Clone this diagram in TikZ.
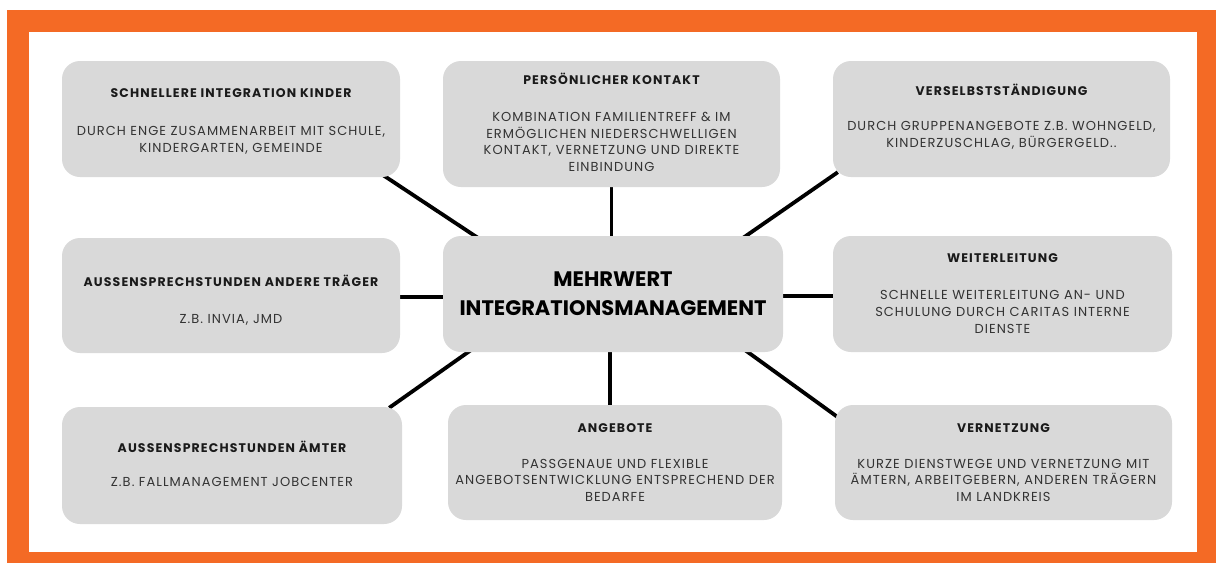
\documentclass[tikz,border=0pt]{standalone}
\usepackage{fontspec}
\setmainfont{Poppins}
\newfontfamily\bodyfont[LetterSpace=8]{Poppins}
\newfontfamily\titlefont[LetterSpace=9]{Poppins}
\newfontfamily\centerfont{Poppins}
\definecolor{frameorange}{HTML}{F46A25}
\definecolor{boxgray}{HTML}{D9D9D9}
\definecolor{bodycol}{HTML}{333333}
\definecolor{titlecol}{HTML}{1A1A1A}
\pgfdeclarelayer{back}
\pgfdeclarelayer{bg}
\pgfsetlayers{back,bg,main}
\newcommand{\ttl}[1]{{\titlefont\bfseries\color{titlecol}\fontsize{12.5}{16.8}\selectfont #1}}
\begin{document}
\begin{tikzpicture}[x=1pt,y=-1pt,
  box/.style={fill=boxgray, rounded corners=18pt, inner sep=0pt},
  txt/.style={inner sep=0pt, align=center, text=bodycol, font=\bodyfont\fontsize{13}{16.8}\selectfont},
  centerbox/.style={box, align=center, text=black, font=\centerfont\bfseries\fontsize{21}{29}\selectfont},
  conn/.style={line width=3.8pt, draw=black}]
\useasboundingbox (0,0) rectangle (1216,563);
\begin{pgfonlayer}{back}
\fill[white] (0,0) rectangle (1216,563);
\fill[frameorange] (7,10) rectangle (1216,563);
\fill[white] (29,32) rectangle (1197,552);
\end{pgfonlayer}

\node[box, minimum width=338pt, minimum height=116pt] (b1) at (231,119) {};
\node[box, minimum width=337pt, minimum height=126pt] (b2) at (611.5,124) {};
\node[box, minimum width=337pt, minimum height=116pt] (b3) at (1001.5,119) {};
\node[box, minimum width=338pt, minimum height=115pt] (b4) at (231,295.5) {};
\node[centerbox, minimum width=340pt, minimum height=116pt] (c) at (613,294)
  {MEHRWERT\\INTEGRATIONSMANAGEMENT};
\node[box, minimum width=339pt, minimum height=116pt] (b6) at (1002.5,294) {};
\node[box, minimum width=340pt, minimum height=117pt] (b7) at (232,465.5) {};
\node[box, minimum width=334pt, minimum height=115pt] (b8) at (615,462.5) {};
\node[box, minimum width=337pt, minimum height=115pt] (b9) at (1003.5,462.5) {};

\node[txt] (t1) at ([yshift=-2.5pt]b1.center)
  {\ttl{SCHNELLERE INTEGRATION KINDER}\\[21pt]DURCH ENGE ZUSAMMENARBEIT MIT SCHULE,\\KINDERGARTEN, GEMEINDE};
\node[txt] (t2) at ([yshift=1.5pt]b2.center)
  {\ttl{PERSÖNLICHER KONTAKT}\\[20pt]KOMBINATION FAMILIENTREFF \& IM\\ERMÖGLICHEN NIEDERSCHWELLIGEN\\KONTAKT, VERNETZUNG UND DIREKTE\\EINBINDUNG};
\node[txt] (t3) at ([yshift=2.5pt]b3.center)
  {\ttl{VERSELBSTSTÄNDIGUNG}\\[18pt]DURCH GRUPPENANGEBOTE Z.B. WOHNGELD,\\KINDERZUSCHLAG, BÜRGERGELD..};
\node[txt] (t4) at ([yshift=-4.5pt]b4.center)
  {\ttl{AUSSENSPRECHSTUNDEN ANDERE TRÄGER}\\[20pt]Z.B. INVIA, JMD};
\node[txt] (t6) at ([yshift=0.5pt]b6.center)
  {\ttl{WEITERLEITUNG}\\[20pt]SCHNELLE WEITERLEITUNG AN- UND\\SCHULUNG DURCH CARITAS INTERNE\\DIENSTE};
\node[txt] (t7) at ([yshift=2pt]b7.center)
  {\ttl{AUSSENSPRECHSTUNDEN ÄMTER}\\[17pt]Z.B. FALLMANAGEMENT JOBCENTER};
\node[txt] (t8) at (b8.center)
  {\ttl{ANGEBOTE}\\[19pt]PASSGENAUE UND FLEXIBLE\\ANGEBOTSENTWICKLUNG ENTSPRECHEND DER\\BEDARFE};
\node[txt] (t9) at (b9.center)
  {\ttl{VERNETZUNG}\\[19pt]KURZE DIENSTWEGE UND VERNETZUNG MIT\\ÄMTERN, ARBEITGEBERN, ANDEREN TRÄGERN\\IM LANDKREIS};

\begin{pgfonlayer}{bg}
\draw[conn] ([xshift=-17pt,yshift=2pt]b1.south east) -- ([xshift=35pt,yshift=-2pt]c.north west);
\draw[conn] (b2.south) -- (b2.south |- c.north);
\draw[conn] ([xshift=5pt,yshift=5pt]b3.south west) -- ([xshift=-40pt,yshift=-2pt]c.north east);
\draw[conn] ([yshift=-3pt]c.west) -- ([yshift=-3pt]c.west -| b4.east);
\draw[conn] ([yshift=-2pt]c.east) -- ([yshift=-2pt]c.east -| b6.west);
\draw[conn] ([xshift=28pt,yshift=2pt]c.south west) -- ([xshift=-13pt,yshift=-1pt]b7.north east);
\draw[conn] ([xshift=-3pt]c.south) -- ([xshift=-3pt]c.south |- b8.north);
\draw[conn] ([xshift=-38pt,yshift=2pt]c.south east) -- ([xshift=8pt,yshift=-16pt]b9.north west);
\end{pgfonlayer}
\end{tikzpicture}
\end{document}
